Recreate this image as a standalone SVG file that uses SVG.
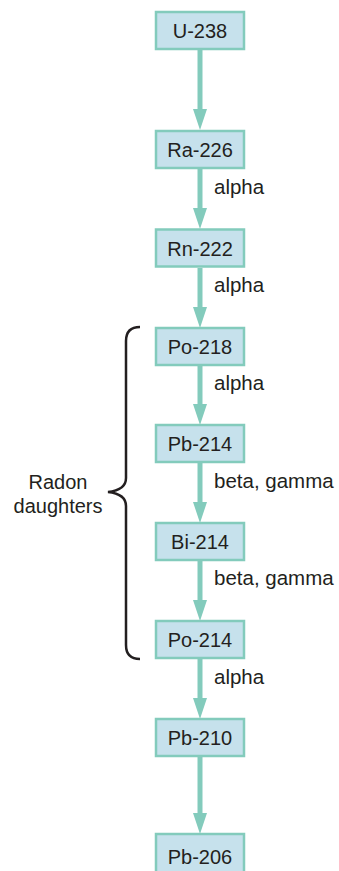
<svg xmlns="http://www.w3.org/2000/svg" width="339" height="871" viewBox="0 0 339 871">
<style>
.box{fill:#c6e1ec;stroke:#83cbbc;stroke-width:2.5}
.nt{font-family:"Liberation Sans",Arial,sans-serif;font-size:20px;fill:#231f20;text-anchor:middle}
.lt{font-family:"Liberation Sans",Arial,sans-serif;font-size:20.5px;fill:#231f20}
.arr{stroke:#83cbbc;stroke-width:5;fill:none}
</style>
<defs>
<marker id="ah" markerUnits="userSpaceOnUse" markerWidth="21" markerHeight="14" refX="0" refY="7" orient="auto" overflow="visible">
<path d="M0,0 L21,7 L0,14 Z" fill="#83cbbc"/>
</marker>
</defs>
<rect width="339" height="871" fill="#fff"/>
<g id="connectors">
<line class="arr" x1="200" y1="50" x2="200" y2="109" marker-end="url(#ah)"/>
<line class="arr" x1="200" y1="169" x2="200" y2="208" marker-end="url(#ah)"/>
<line class="arr" x1="200" y1="268" x2="200" y2="307" marker-end="url(#ah)"/>
<line class="arr" x1="200" y1="366" x2="200" y2="404" marker-end="url(#ah)"/>
<line class="arr" x1="200" y1="463" x2="200" y2="502" marker-end="url(#ah)"/>
<line class="arr" x1="200" y1="561" x2="200" y2="600" marker-end="url(#ah)"/>
<line class="arr" x1="200" y1="658" x2="200" y2="698" marker-end="url(#ah)"/>
<line class="arr" x1="200" y1="756" x2="200" y2="813" marker-end="url(#ah)"/>
</g>
<g id="labels">
<text class="lt" x="214" y="194">alpha</text>
<text class="lt" x="214" y="292">alpha</text>
<text class="lt" x="214" y="390">alpha</text>
<text class="lt" x="214" y="488">beta, gamma</text>
<text class="lt" x="214" y="585">beta, gamma</text>
<text class="lt" x="214" y="684">alpha</text>
</g>
<g id="bracket">
<path d="M140,327 Q126,327 126,341 L126,478 Q126,490 108,492 Q126,494 126,506 L126,645 Q126,659 140,659" fill="none" stroke="#231f20" stroke-width="2.5"/>
<text class="nt" x="58" y="489">Radon</text>
<text class="nt" x="58" y="513">daughters</text>
</g>
<g id="n-u238"><rect class="box" x="156" y="12" width="88" height="37"/><text class="nt" x="200" y="38">U-238</text></g>
<g id="n-ra226"><rect class="box" x="156" y="131" width="88" height="37"/><text class="nt" x="200" y="157">Ra-226</text></g>
<g id="n-rn222"><rect class="box" x="156" y="229.5" width="88" height="37"/><text class="nt" x="200" y="255.5">Rn-222</text></g>
<g id="n-po218"><rect class="box" x="156" y="328" width="88" height="37"/><text class="nt" x="200" y="354">Po-218</text></g>
<g id="n-pb214"><rect class="box" x="156" y="425" width="88" height="37"/><text class="nt" x="200" y="451">Pb-214</text></g>
<g id="n-bi214"><rect class="box" x="156" y="523" width="88" height="37"/><text class="nt" x="200" y="549">Bi-214</text></g>
<g id="n-po214"><rect class="box" x="156" y="621" width="88" height="37"/><text class="nt" x="200" y="647">Po-214</text></g>
<g id="n-pb210"><rect class="box" x="156" y="719" width="88" height="37"/><text class="nt" x="200" y="745">Pb-210</text></g>
<g id="n-pb206"><rect class="box" x="156" y="834" width="88" height="40"/><text class="nt" x="200" y="864">Pb-206</text></g>
</svg>
